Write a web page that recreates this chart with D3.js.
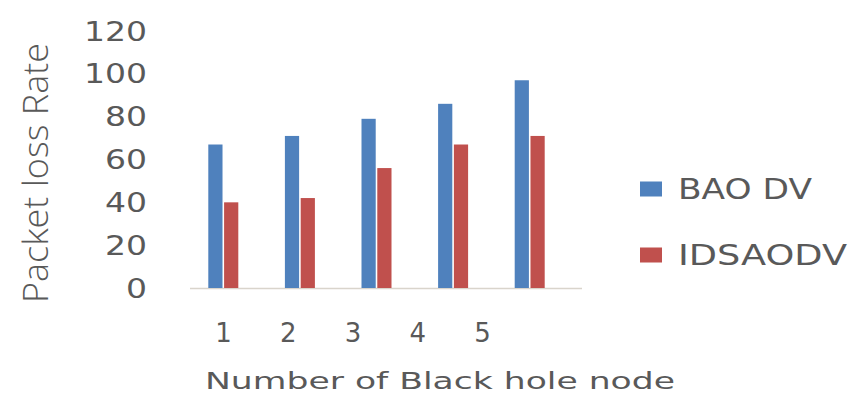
<!DOCTYPE html>
<html>
<head>
<meta charset="utf-8">
<script src="https://cdn.jsdelivr.net/npm/d3@7"></script>
<style>
  body { margin: 0; background: #fff; }
  svg text { font-family: "DejaVu Sans", Verdana, sans-serif; fill: #595959; }
</style>
</head>
<body>
<div id="svgWrapper"></div>
<script>
// data
var categories = ["1", "2", "3", "4", "5"];
var seriesNames = ["BAO DV", "IDSAODV"];
var baodv = [67, 71, 79, 86, 97];
var idsaodv = [40, 42, 56, 67, 71];
var yTicks = [0, 20, 40, 60, 80, 100, 120];

var fullWidth = 853, fullHeight = 396;
var color = ["#4F81BD", "#C0504D"];

var svg = d3.select("#svgWrapper")
  .append("svg")
  .attr("width", fullWidth)
  .attr("height", fullHeight);

// scales
var yScale = d3.scaleLinear().domain([0, 120]).range([288, 31]);
var xScale = d3.scaleBand().domain(categories).range([185, 568]);
var inner = d3.scaleBand().domain(seriesNames).range([0, 30]).paddingInner(0.1);
// tick labels sit a little off the bars in the original (image is stretched)
var labelScale = d3.scalePoint().domain(categories).range([223, 482]);

// y axis labels
var yAxis = svg.append("g")
  .attr("transform", "translate(147,0)")
  .call(d3.axisLeft(yScale).tickValues(yTicks).tickSize(0).tickPadding(0));
yAxis.select(".domain").remove();
yAxis.selectAll("text")
  .style("font-size", "26px")
  .attr("dy", "0.35em")
  .attr("textLength", function(d) { return String(d).length * 21; })
  .attr("lengthAdjust", "spacingAndGlyphs");

// baseline
svg.append("line")
  .attr("x1", 190).attr("x2", 582)
  .attr("y1", yScale(0) + 0.5).attr("y2", yScale(0) + 0.5)
  .attr("stroke", "#d9d4cc")
  .attr("stroke-width", 1.5);

// bars
var rows = categories.map(function(c, i) {
  return { cat: c, values: [baodv[i], idsaodv[i]] };
});
var groups = svg.selectAll("g.grp")
  .data(rows)
  .enter().append("g")
  .attr("class", "grp")
  .attr("transform", function(d) {
    return "translate(" + (xScale(d.cat) + xScale.bandwidth() / 2 - 15) + ",0)";
  });
groups.selectAll("rect")
  .data(function(d) { return d.values.map(function(v, i) { return { s: seriesNames[i], v: v, i: i }; }); })
  .enter().append("rect")
  .attr("x", function(d) { return inner(d.s); })
  .attr("width", inner.bandwidth())
  .attr("y", function(d) { return yScale(d.v); })
  .attr("height", function(d) { return yScale(0) - yScale(d.v); })
  .attr("fill", function(d) { return color[d.i]; });

// x axis labels
var xAxis = svg.append("g")
  .attr("transform", "translate(0,333)")
  .call(d3.axisBottom(labelScale).tickSize(0).tickPadding(0));
xAxis.select(".domain").remove();
xAxis.selectAll("text")
  .style("font-size", "26px")
  .attr("y", 0)
  .attr("dy", "0.35em");

// legend
for (var p = 0; p < seriesNames.length; p++) {
  var ly = 189 + p * 66;
  svg.append("rect")
    .attr("x", 640).attr("y", ly - 7.5)
    .attr("width", 22).attr("height", 15)
    .attr("fill", color[p]);
  svg.append("text")
    .attr("x", 678).attr("y", ly)
    .attr("dy", "0.36em")
    .style("font-size", "28px")
    .attr("textLength", p == 0 ? 134 : 169)
    .attr("lengthAdjust", "spacingAndGlyphs")
    .text(seriesNames[p]);
}

// axis titles
svg.append("text")
  .attr("x", 205).attr("y", 389)
  .style("font-size", "23px")
  .attr("textLength", 470)
  .attr("lengthAdjust", "spacingAndGlyphs")
  .text("Number of Black hole node");

svg.append("text")
  .attr("transform", "translate(48,303) rotate(-90)")
  .style("font-size", "34px")
  .style("font-family", "'Liberation Sans Narrow', 'Open Sans', sans-serif")
  .style("font-weight", "300")
  .attr("textLength", 260)
  .attr("lengthAdjust", "spacingAndGlyphs")
  .text("Packet loss Rate");
</script>
</body>
</html>
